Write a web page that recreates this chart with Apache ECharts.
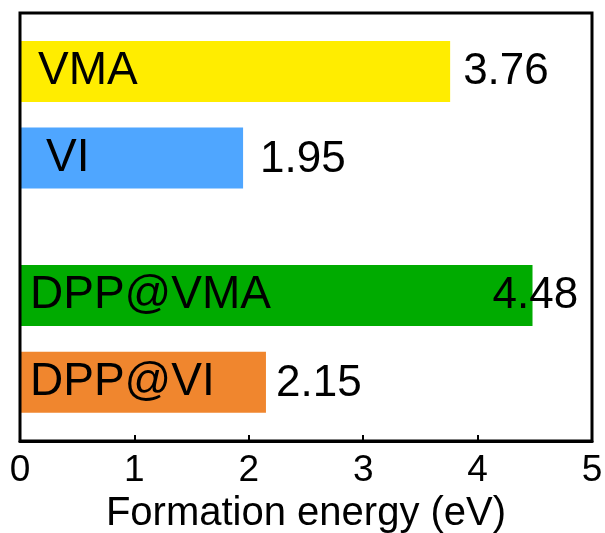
<!DOCTYPE html>
<html>
<head>
<meta charset="utf-8">
<script src="https://cdn.jsdelivr.net/npm/echarts@6/dist/echarts.min.js"></script>
<style>html,body{margin:0;padding:0;background:#fff;}#c{width:605px;height:533px;}</style>
</head>
<body>
<div id="c"></div>
<script>
// ---- data ----
const categoriesTop = ['VMA', 'VI'];
const valuesTop = [3.76, 1.95];
const categoriesBottom = ['DPP@VMA', 'DPP@VI'];
const valuesBottom = [4.48, 2.15];
const xMin = 0, xMax = 5, xStep = 1;
const axisTitle = 'Formation energy (eV)';

// ---- styles ----
const FONT = 'Liberation Sans, Arial, Helvetica, sans-serif';
const colorsTop = ['#FFED00', '#4FA6FF'];
const colorsBottom = ['#00AB00', '#F0862E'];
const nameDistTop = [18, 26];
const nameDistBottom = [10, 10];
const valueDistTop = [13, 17];
const valueDistBottom = [-40, 10];
const valueDyTop = [0, 2];
const valueDyBottom = [0, 2];

function barSeries(gi, vals, colors, vDist, vDy) {
  return {
    type: 'bar', xAxisIndex: gi, yAxisIndex: gi, barWidth: 61, z: 3,
    data: vals.map((v, i) => ({
      value: v,
      itemStyle: { color: colors[i] },
      label: { distance: vDist[i], offset: [0, vDy[i]] }
    })),
    label: { show: true, position: 'right', color: '#000', fontSize: 44, fontFamily: FONT,
      formatter: p => p.value.toFixed(2) }
  };
}
function nameSeries(gi, vals, cats, dists) {
  return {
    type: 'bar', xAxisIndex: gi, yAxisIndex: gi, barWidth: 61, barGap: '-100%', z: 4,
    itemStyle: { color: 'rgba(0,0,0,0)' }, silent: true,
    data: vals.map((v, i) => ({ value: v, label: { distance: dists[i] } })),
    label: { show: true, position: 'insideLeft', color: '#000', fontSize: 46, fontFamily: FONT,
      formatter: p => cats[p.dataIndex] }
  };
}

const chart = echarts.init(document.getElementById('c'), null, { renderer: 'canvas' });
chart.setOption({
  animation: false,
  backgroundColor: '#fff',
  grid: [
    { left: 20, right: 13, top: 13, bottom: 92, show: true, borderColor: '#000', borderWidth: 3, z: 10,
      containLabel: false, outerBoundsMode: 'none' },
    { left: 20, right: 13, top: 28.2, height: 173, containLabel: false, outerBoundsMode: 'none' },
    { left: 20, right: 13, top: 252.2, height: 173.4, containLabel: false, outerBoundsMode: 'none' }
  ],
  xAxis: [
    { gridIndex: 0, type: 'value', min: xMin, max: xMax, interval: xStep,
      axisLine: { show: true, lineStyle: { color: '#000', width: 3 } },
      axisTick: { show: true, inside: true, length: 6, lineStyle: { color: '#000', width: 2 } },
      splitLine: { show: false },
      axisLabel: { color: '#000', fontSize: 37, fontFamily: FONT, margin: 11 },
      name: axisTitle, nameLocation: 'middle', nameGap: 49,
      nameTextStyle: { color: '#000', fontSize: 40, fontFamily: FONT } },
    { gridIndex: 1, type: 'value', min: xMin, max: xMax, show: false },
    { gridIndex: 2, type: 'value', min: xMin, max: xMax, show: false }
  ],
  yAxis: [
    { gridIndex: 0, type: 'value', show: false },
    { gridIndex: 1, type: 'category', data: categoriesTop, inverse: true, show: false },
    { gridIndex: 2, type: 'category', data: categoriesBottom, inverse: true, show: false }
  ],
  series: [
    barSeries(1, valuesTop, colorsTop, valueDistTop, valueDyTop),
    nameSeries(1, valuesTop, categoriesTop, nameDistTop),
    barSeries(2, valuesBottom, colorsBottom, valueDistBottom, valueDyBottom),
    nameSeries(2, valuesBottom, categoriesBottom, nameDistBottom)
  ]
});
</script>
</body>
</html>
